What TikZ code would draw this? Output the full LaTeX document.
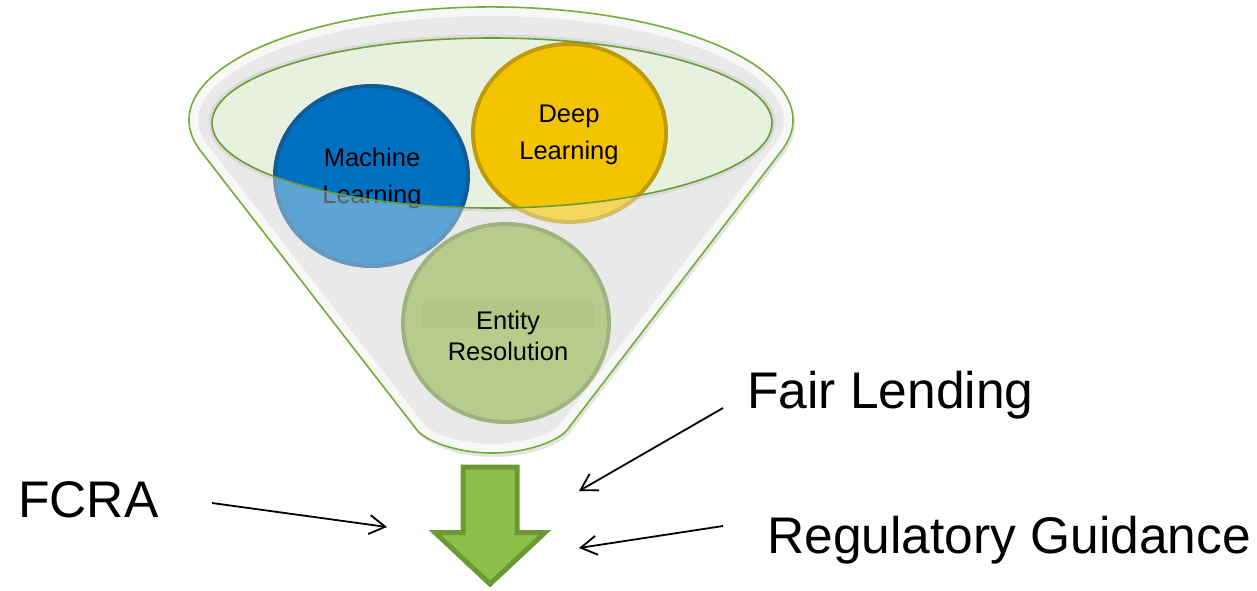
\documentclass[tikz,border=0pt]{standalone}
\usepackage{fontspec}
\setmainfont{Liberation Sans}
\usetikzlibrary{arrows.meta}

\definecolor{mlblue}{HTML}{0070C0}
\definecolor{mlborder}{HTML}{135B96}
\definecolor{dlgold}{HTML}{F5C400}
\definecolor{dlborder}{HTML}{BF9B0C}
\definecolor{ergreen}{HTML}{8FB24C}
\definecolor{erborder}{HTML}{6A8A36}
\definecolor{rimgreen}{HTML}{74AD3A}
\definecolor{lipgreen}{HTML}{6A9C38}
\definecolor{mouthgreen}{HTML}{E8F1DF}
\definecolor{arrowfill}{HTML}{8BC04A}
\definecolor{arrowedge}{HTML}{6B9A35}
\definecolor{bodygray}{HTML}{E2E2E2}

% outline of the funnel: upper arc of the rim, the two sides and the rounded spout
\newcommand\funneloutline{(199.3,-149.2) -- (417,-430)
  .. controls (424.7,-440) and (455,-453) .. (492,-453)
  .. controls (529,-453) and (559.3,-440) .. (567,-430)
  -- (782.7,-149.2) arc[start angle=-15, end angle=195, x radius=302, y radius=113] -- cycle}
\newcommand\mouth{(492,-123) ellipse[x radius=280, y radius=85]}

\tikzset{
  bigtext/.style={font=\fontsize{51.5}{60}\selectfont, inner sep=0pt, anchor=base west},
  bubble/.style={font=\fontsize{25.5}{37}\selectfont, align=center, inner sep=0pt},
  conn/.style={line width=1.8pt, -{Straight Barb[length=16pt, width=19pt, line width=1.8pt]}},
}

\begin{document}
\begin{tikzpicture}[x=1pt, y=1pt]
\useasboundingbox (0,0) rectangle (1257,-590);

% soft drop shadow of the funnel
\begin{scope}[shift={(2,-4)}]
  \fill[black, opacity=0.10] \funneloutline;
\end{scope}

% funnel body
\fill[bodygray] \funneloutline;
\begin{scope}
  \clip \funneloutline;
  \draw[white, opacity=0.85, line width=18pt] \funneloutline;
  \draw[gray, opacity=0.25, line width=7pt] \mouth;
\end{scope}

% open mouth of the funnel
\fill[mouthgreen] \mouth;

% the three topics
\fill[ergreen] (506,-323) ellipse[x radius=103, y radius=99];
\draw[erborder, line width=4pt] (506,-323) ellipse[x radius=103, y radius=99];
\fill[mlblue] (371.5,-176) ellipse[x radius=96.5, y radius=90];
\draw[mlborder, line width=4pt] (371.5,-176) ellipse[x radius=96.5, y radius=90];
\node[bubble] (ml) at (372,-178) {Machine\\Learning};
\fill[dlgold] (569.5,-133) ellipse[x radius=96.5, y radius=89];
\draw[dlborder, line width=4pt] (569.5,-133) ellipse[x radius=96.5, y radius=89];
\node[bubble] (dl) at (569,-135) {Deep\\Learning};

% translucent front wall of the funnel
\fill[white!94!gray, opacity=0.38, even odd rule] \funneloutline \mouth;

% rim and side outlines
\draw[rimgreen, line width=1.6pt] \funneloutline;
\draw[lipgreen, line width=1.6pt] \mouth;

% label of the lower topic, seen through the wall
\fill[ergreen!80!black, opacity=0.08] (421,-301) rectangle (594,-328);
\node[bubble, font=\fontsize{25.5}{31}\selectfont] (er) at (508,-336) {Entity\\Resolution};

% output arrow
\draw[arrowedge, fill=arrowfill, line width=5pt, line join=miter]
  (463,-467) -- (517,-467) -- (517,-532.5) -- (545,-532.5) -- (490,-584)
  -- (435,-532.5) -- (463,-532.5) -- cycle;

% constraints
\node[bigtext] (fcra) at (18,-517) {FCRA};
\node[bigtext] (fair) at (747,-408) {Fair Lending};
\node[bigtext] (reg) at (767,-553) {Regulatory Guidance};

\coordinate (fcra-tail) at (212,-503);
\coordinate (fcra-head) at (387,-527);
\coordinate (fair-tail) at (723,-408);
\coordinate (fair-head) at (579,-491);
\coordinate (reg-tail) at (723,-526);
\coordinate (reg-head) at (579,-548);

\draw[conn] (fcra-tail) -- (fcra-head);
\draw[conn] (fair-tail) -- (fair-head);
\draw[conn] (reg-tail) -- (reg-head);
\end{tikzpicture}
\end{document}
